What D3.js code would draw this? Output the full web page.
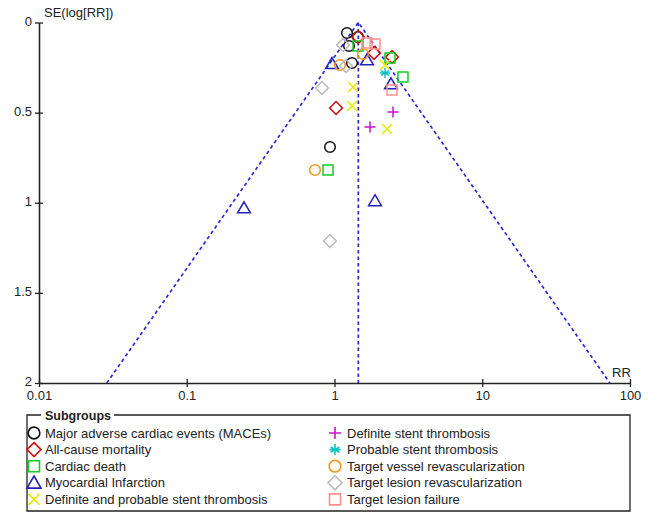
<!DOCTYPE html>
<html><head><meta charset="utf-8">
<script src="https://cdn.jsdelivr.net/npm/d3@7"></script>
<style>body{margin:0;background:#fff}svg{display:block}text{font-family:"Liberation Sans",Arial,sans-serif}</style>
</head><body><svg id="c" width="653" height="514"></svg>
<script>
const subgroups = ["Major adverse cardiac events (MACEs)","All-cause mortality","Cardiac death","Myocardial Infarction","Definite and probable stent thrombosis","Definite stent thrombosis","Probable stent thrombosis","Target vessel revascularization","Target lesion revascularization","Target lesion failure"];
const shapes = ["circle","diamond","square","triangle","x","plus","star","circle","diamond","square"];
const colors = ["#111111","#cc1111","#11cc22","#2222bb","#e8e800","#cc11cc","#11c4c4","#f7941d","#bbbbbb","#ff9090"];
const rrValues = [
  [1.215,1.254,1.443,1.313,0.932],
  [1.443,1.851,2.450,1.024],
  [1.443,2.374,2.908,0.904],
  [0.962,1.660,2.412,1.880,0.244],
  [2.197,1.334,1.313,2.266],
  [2.489,1.739],
  [2.197],
  [1.560,1.089,0.738],
  [1.142,1.196,0.823,0.932],
  [1.660,1.880,2.450]
];
const seValues = [
  [0.058,0.130,0.080,0.225,0.691],
  [0.080,0.169,0.191,0.474],
  [0.130,0.197,0.302,0.818],
  [0.229,0.208,0.341,0.990,1.029],
  [0.236,0.358,0.463,0.591],
  [0.497,0.580],
  [0.280],
  [0.175,0.236,0.818],
  [0.125,0.241,0.363,1.212],
  [0.114,0.119,0.374]
];
const pooledRR = 1.45;
const xTicks = [0.01,0.1,1,10,100];
const yTicks = [0,0.5,1,1.5,2];

const svg = d3.select("#c");
const x = d3.scaleLog().domain([0.01,100]).range([39,630]);
const y = d3.scaleLinear().domain([0,2]).range([22.5,383]);

function shapePath(s, k){
  const r = 5.3*k;
  switch(s){
    case "circle": return `M${r},0A${r},${r} 0 1,1 ${-r},0A${r},${r} 0 1,1 ${r},0Z`;
    case "diamond": {const d=6.4*k; return `M0,${-d}L${d},0L0,${d}L${-d},0Z`;}
    case "square": {const h=5*k; return `M${-h},${-h}H${h}V${h}H${-h}Z`;}
    case "triangle": {const w=6.4*k; return `M0,${-6.2*k}L${w},${4.8*k}L${-w},${4.8*k}Z`;}
    case "x": {const h=5*k; return `M${-h},${-h}L${h},${h}M${-h},${h}L${h},${-h}`;}
    case "plus": {const h=5.5*k; return `M${-h},0H${h}M0,${-h}V${h}`;}
    case "star": {const h=5*k, d=4*k; return `M0,${-h}V${h}M${-d},${-d*0.6}L${d},${d*0.6}M${-d},${d*0.6}L${d},${-d*0.6}M${-h},0H${h}`;}
  }
}

// axes
const xAxis = d3.axisBottom(x).tickValues(xTicks).tickFormat(d=>String(d)).tickSize(0).tickPadding(8);
const gx = svg.append("g").attr("transform","translate(0,383)").call(xAxis);
gx.select(".domain").attr("stroke","#222").attr("stroke-width",1.6);
gx.selectAll(".tick text").attr("font-size",13).attr("fill","#222").attr("font-family","Liberation Sans, Arial, sans-serif");
gx.selectAll(".tick").append("line").attr("y1",-4).attr("y2",4).attr("stroke","#222").attr("stroke-width",1.3);

const yAxis = d3.axisLeft(y).tickValues(yTicks).tickFormat(d=>String(d)).tickSize(0).tickPadding(7);
const gy = svg.append("g").attr("transform","translate(39,0)").call(yAxis);
gy.select(".domain").attr("stroke","#222").attr("stroke-width",1.6);
gy.selectAll(".tick text").attr("font-size",13).attr("fill","#222").attr("dy","0.2em").attr("font-family","Liberation Sans, Arial, sans-serif");
gy.selectAll(".tick").append("line").attr("x1",-4).attr("x2",4).attr("stroke","#222").attr("stroke-width",1.3);

svg.append("text").attr("x",44).attr("y",17).attr("font-size",13).attr("fill","#222").text("SE(log[RR])");
svg.append("text").attr("x",612).attr("y",377).attr("font-size",13).attr("fill","#222").text("RR");

// funnel
const seMax = 2;
const lo = Math.exp(Math.log(pooledRR) - 1.96*seMax), hi = Math.exp(Math.log(pooledRR) + 1.96*seMax);
const dashSty = g => g.attr("stroke","#2a2ad6").attr("stroke-width",1.7).attr("stroke-dasharray","3.5,3").attr("fill","none");
svg.append("path").attr("d",`M${x(lo)},${y(seMax)}L${x(pooledRR)},${y(0)}L${x(hi)},${y(seMax)}`).call(dashSty);
svg.append("line").attr("x1",x(pooledRR)).attr("x2",x(pooledRR)).attr("y1",y(0)).attr("y2",y(seMax)).call(dashSty);

// points
subgroups.forEach((name,i)=>{
  const pts = rrValues[i].map((r,j)=>({rr:r,se:seValues[i][j]}));
  svg.append("g").selectAll("path").data(pts).join("path")
    .attr("transform",d=>`translate(${x(d.rr)},${y(d.se)})`)
    .attr("d",shapePath(shapes[i],1))
    .attr("fill","none").attr("stroke",colors[i]).attr("stroke-width",1.5);
});

// legend
const lg = svg.append("g");
lg.append("path").attr("d","M41,415H27V511H630V415H114").attr("fill","none").attr("stroke","#222").attr("stroke-width",1.3);
lg.append("text").attr("x",45).attr("y",419.5).attr("font-size",12.5).attr("font-weight","bold").attr("fill","#222").text("Subgroups");
subgroups.forEach((name,i)=>{
  const col = i<5?0:1, row = i%5;
  const mx = col===0?34:335, tx = col===0?45:347, cy = 433+row*16.6;
  lg.append("path").attr("transform",`translate(${mx},${cy})`).attr("d",shapePath(shapes[i],1.1))
    .attr("fill","none").attr("stroke",colors[i]).attr("stroke-width",1.6);
  lg.append("text").attr("x",tx).attr("y",cy+4.5).attr("font-size",13).attr("fill","#222").text(name);
});
</script></body></html>
